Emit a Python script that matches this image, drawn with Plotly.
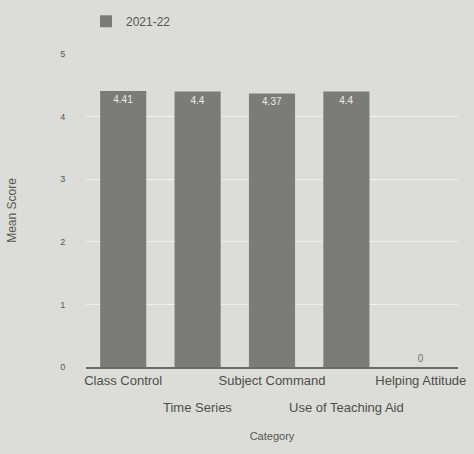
import plotly.graph_objects as go

categories = ["Class Control", "Time Series", "Subject Command", "Use of Teaching Aid", "Helping Attitude"]
values_2021_22 = [4.41, 4.4, 4.37, 4.4, 0]
series_name = "2021-22"
y_ticks = [0, 1, 2, 3, 4, 5]

row1_text = [c if i % 2 == 0 else "" for i, c in enumerate(categories)]
row2_cats = [c for i, c in enumerate(categories) if i % 2 == 1]
text_pos = ["inside" if v > 0.5 else "outside" for v in values_2021_22]

fig = go.Figure()
fig.add_trace(go.Bar(
    x=categories, y=values_2021_22, name=series_name,
    marker=dict(color="#7b7c78", line=dict(width=0)),
    text=[f"{v:g}" for v in values_2021_22],
    textposition=text_pos, insidetextanchor="end",
    textfont=dict(color=["#ececE8"] * 4 + ["#6e6f6b"], size=10, family="Liberation Sans"),
    cliponaxis=False,
))
for c in row2_cats:
    fig.add_annotation(x=c, xref="x", y=0, yref="paper", yanchor="top", yshift=-31,
                       text=c, showarrow=False, font=dict(size=13, color="#4d4e4a"))
fig.update_layout(
    width=474, height=454,
    paper_bgcolor="#dcddd8", plot_bgcolor="#dcddd8",
    margin=dict(l=86, r=16, t=54, b=87, autoexpand=False),
    bargap=0.38,
    showlegend=True,
    legend=dict(x=0.0, y=0.985, xref="paper", yref="container", xanchor="left", yanchor="top",
                orientation="h", font=dict(size=12, color="#555652"), bgcolor="rgba(0,0,0,0)"),
    font=dict(family="Liberation Sans", color="#555652"),
    uniformtext=dict(minsize=8, mode="show"),
)
fig.update_xaxes(
    tickvals=categories, ticktext=row1_text, tickfont=dict(size=13, color="#4d4e4a"),
    title=dict(text="Category", font=dict(size=11, color="#555652"), standoff=46),
    showline=True, linecolor="#6b6c68", linewidth=2, showgrid=False,
    tickangle=0, automargin=False,
)
fig.update_yaxes(
    range=[0, 5], tickvals=y_ticks, tickfont=dict(size=9, color="#555652"),
    ticks="outside", ticklen=18, tickcolor="#dcddd8",
    title=dict(text="Mean Score", font=dict(size=12, color="#555652"), standoff=40),
    gridcolor="#efefeb", gridwidth=1, zeroline=False, showline=False, automargin=False,
)
fig.write_html("out.html", config={"displayModeBar": False},
               post_script="document.body.style.margin='0';document.body.style.background='#dcddd8';")
